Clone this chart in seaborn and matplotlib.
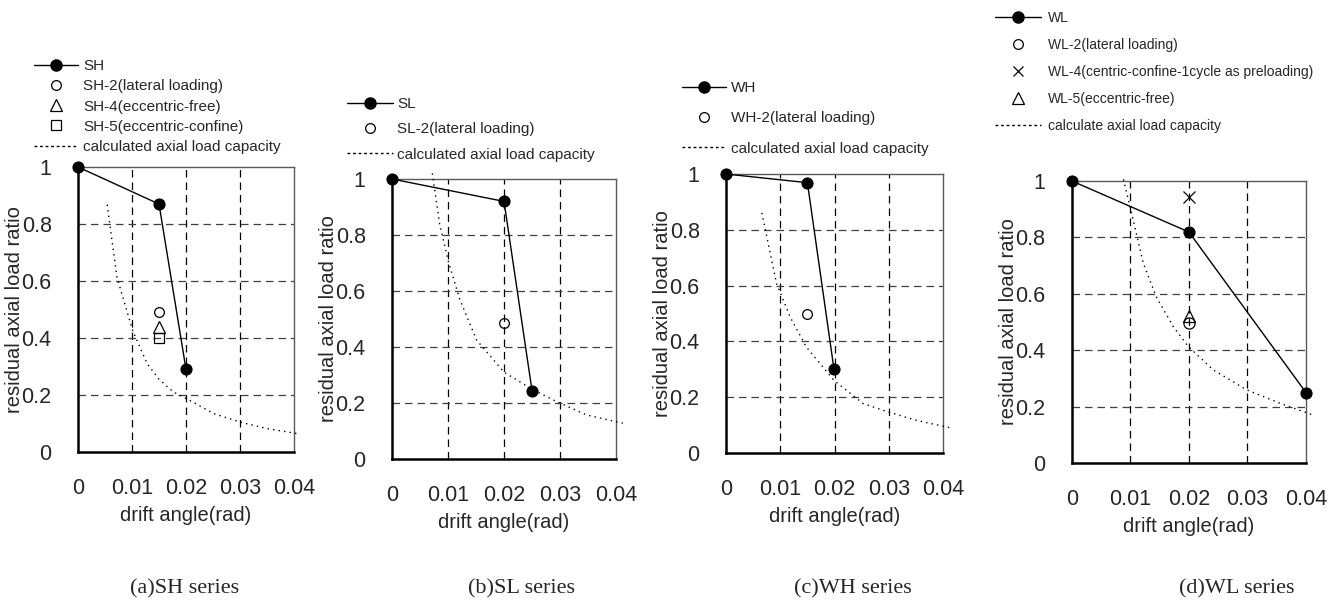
import matplotlib
matplotlib.use("Agg")
import matplotlib.pyplot as plt
from matplotlib.lines import Line2D
import seaborn as sns

# ---- data ----
xticks = [0, 0.01, 0.02, 0.03, 0.04]
xtick_labels = ["0", "0.01", "0.02", "0.03", "0.04"]
yticks = [0, 0.2, 0.4, 0.6, 0.8, 1.0]
ytick_labels = ["0", "0.2", "0.4", "0.6", "0.8", "1"]

# (a) SH series
sh_x = [0, 0.015, 0.02]
sh_y = [1.0, 0.87, 0.29]
sh_extra_x = [0.015, 0.015, 0.015]
sh_extra_y = [0.49, 0.44, 0.40]
sh_cap_x = [0.0054, 0.0072, 0.0101, 0.0128, 0.0150, 0.0177, 0.0201, 0.0251, 0.0300, 0.0350, 0.0408]
sh_cap_y = [0.868, 0.614, 0.427, 0.310, 0.255, 0.210, 0.187, 0.135, 0.105, 0.082, 0.064]

# (b) SL series
sl_x = [0, 0.02, 0.025]
sl_y = [1.0, 0.92, 0.244]
sl_extra_x = [0.02]
sl_extra_y = [0.485]
sl_cap_x = [0.0072, 0.0085, 0.0100, 0.0121, 0.0151, 0.0200, 0.0252, 0.0294, 0.0348, 0.0412]
sl_cap_y = [1.02, 0.84, 0.71, 0.57, 0.425, 0.31, 0.247, 0.205, 0.157, 0.128]

# (c) WH series
wh_x = [0, 0.015, 0.0199]
wh_y = [1.0, 0.969, 0.30]
wh_extra_x = [0.015]
wh_extra_y = [0.50]
wh_cap_x = [0.0066, 0.0093, 0.0118, 0.0148, 0.0199, 0.0253, 0.0299, 0.0351, 0.0412]
wh_cap_y = [0.861, 0.608, 0.488, 0.380, 0.260, 0.177, 0.147, 0.117, 0.091]

# (d) WL series
wl_x = [0, 0.02, 0.04]
wl_y = [1.0, 0.819, 0.25]
wl2_x, wl2_y = [0.02], [0.498]
wl4_x, wl4_y = [0.02], [0.945]
wl5_x, wl5_y = [0.02], [0.52]
wl_cap_x = [0.0088, 0.0102, 0.0122, 0.0144, 0.0173, 0.0199, 0.0241, 0.0298, 0.0355, 0.0411]
wl_cap_y = [1.006, 0.885, 0.708, 0.590, 0.484, 0.413, 0.331, 0.260, 0.2125, 0.171]

captions = ["(a)SH series", "(b)SL series", "(c)WH series", "(d)WL series"]

sns.set_style("white")
plt.rcParams["font.family"] = ["Liberation Sans", "DejaVu Sans"]

fig = plt.figure(figsize=(13.43, 6.07), dpi=100)

# axes rectangles in figure fractions (left, bottom, width, height)
rects = [
    (0.0581, 0.2554, 0.1608, 0.4695),
    (0.2919, 0.2438, 0.1668, 0.4613),
    (0.5406, 0.2537, 0.1616, 0.4596),
    (0.7982, 0.2372, 0.1742, 0.4646),
]
cap_x = [185 / 1343, 522 / 1343, 853 / 1343, 1237 / 1343]


def style_axes(ax):
    ax.set_xlim(0, 0.04)
    ax.set_ylim(0, 1)
    ax.set_xticks(xticks)
    ax.set_xticklabels(xtick_labels)
    ax.set_yticks(yticks)
    ax.set_yticklabels(ytick_labels)
    ax.tick_params(axis="both", length=0, labelsize=15.5)
    ax.tick_params(axis="y", pad=19)
    ax.tick_params(axis="x", pad=19)
    for v in xticks[1:-1]:
        ax.axvline(v, color="black", lw=0.9, ls=(0, (6, 4)), zorder=1)
    for v in yticks[1:-1]:
        ax.axhline(v, color="0.25", lw=0.9, ls=(0, (6, 4)), zorder=1)
    for side in ["left", "bottom"]:
        ax.spines[side].set_color("black")
        ax.spines[side].set_linewidth(1.8)
    for side in ["top", "right"]:
        ax.spines[side].set_color("0.35")
        ax.spines[side].set_linewidth(1.0)
    ax.set_xlabel("drift angle(rad)", fontsize=14.5, labelpad=5)
    ax.set_ylabel("residual axial load ratio", fontsize=14.5, labelpad=-2)


def main_line(ax, x, y):
    sns.lineplot(x=x, y=y, ax=ax, color="black", lw=1.0, marker="o",
                 markersize=8, markeredgecolor="black", markerfacecolor="black",
                 clip_on=False, zorder=5)


def cap_line(ax, x, y):
    sns.lineplot(x=x, y=y, ax=ax, color="black", lw=1.0, ls=(0, (1, 3)),
                 clip_on=False, zorder=3)


def hollow(ax, x, y, marker, size=7):
    ax.plot(x, y, ls="none", marker=marker, markersize=size, markerfacecolor="none",
            markeredgecolor="black", markeredgewidth=0.9, zorder=4)


main_h = lambda: Line2D([], [], color="black", lw=1.0, marker="o", markersize=8)
circ_h = lambda: Line2D([], [], ls="none", marker="o", markersize=7, mfc="none", mec="black", mew=0.9)
tri_h = lambda: Line2D([], [], ls="none", marker="^", markersize=8, mfc="none", mec="black", mew=0.9)
sq_h = lambda: Line2D([], [], ls="none", marker="s", markersize=7, mfc="none", mec="black", mew=0.9)
x_h = lambda: Line2D([], [], ls="none", marker="x", markersize=7, color="black", mew=0.9)
cap_h = lambda: Line2D([], [], color="black", lw=1.0, ls=(0, (2, 2)))

axes = [fig.add_axes(r) for r in rects]

# (a)
ax = axes[0]
style_axes(ax)
cap_line(ax, sh_cap_x, sh_cap_y)
main_line(ax, sh_x, sh_y)
hollow(ax, sh_extra_x[:1], sh_extra_y[:1], "o")
hollow(ax, sh_extra_x[1:2], sh_extra_y[1:2], "^", 8)
hollow(ax, sh_extra_x[2:], sh_extra_y[2:], "s")
fig.legend([main_h(), circ_h(), tri_h(), sq_h(), cap_h()],
           ["SH", "SH-2(lateral loading)", "SH-4(eccentric-free)", "SH-5(eccentric-confine)",
            "calculated axial load capacity"],
           loc="upper left", bbox_to_anchor=(34 / 1343, 1 - 59 / 607), frameon=False,
           fontsize=11, handlelength=2.9, handletextpad=0.3, labelspacing=0.41,
           borderpad=0, borderaxespad=0)

# (b)
ax = axes[1]
style_axes(ax)
cap_line(ax, sl_cap_x, sl_cap_y)
main_line(ax, sl_x, sl_y)
hollow(ax, sl_extra_x, sl_extra_y, "o")
fig.legend([main_h(), circ_h(), cap_h()],
           ["SL", "SL-2(lateral loading)", "calculated axial load capacity"],
           loc="upper left", bbox_to_anchor=(347 / 1343, 1 - 97 / 607), frameon=False,
           fontsize=11, handlelength=3.0, handletextpad=0.3, labelspacing=0.74,
           borderpad=0, borderaxespad=0)

# (c)
ax = axes[2]
style_axes(ax)
cap_line(ax, wh_cap_x, wh_cap_y)
main_line(ax, wh_x, wh_y)
hollow(ax, wh_extra_x, wh_extra_y, "o")
fig.legend([main_h(), circ_h(), cap_h()],
           ["WH", "WH-2(lateral loading)", "calculated axial load capacity"],
           loc="upper left", bbox_to_anchor=(682 / 1343, 1 - 81 / 607), frameon=False,
           fontsize=11, handlelength=2.9, handletextpad=0.3, labelspacing=1.07,
           borderpad=0, borderaxespad=0)

# (d)
ax = axes[3]
style_axes(ax)
cap_line(ax, wl_cap_x, wl_cap_y)
main_line(ax, wl_x, wl_y)
hollow(ax, wl2_x, wl2_y, "o", 8)
hollow(ax, wl5_x, wl5_y, "^", 8)
ax.plot(wl4_x, wl4_y, ls="none", marker="x", markersize=8, color="black", mew=0.9, zorder=4)
fig.legend([main_h(), circ_h(), x_h(), tri_h(), cap_h()],
           ["WL", "WL-2(lateral loading)", "WL-4(centric-confine-1cycle as preloading)",
            "WL-5(eccentric-free)", "calculate axial load capacity"],
           loc="upper left", bbox_to_anchor=(995 / 1343, 1 - 11 / 607), frameon=False,
           fontsize=10, handlelength=3.3, handletextpad=0.5, labelspacing=0.93,
           borderpad=0, borderaxespad=0)

for cx, text in zip(cap_x, captions):
    fig.text(cx, 1 - 589 / 607, text, ha="center", va="center", fontsize=16,
             family=["Liberation Serif", "DejaVu Serif"])

fig.savefig("out.png", dpi=100)
